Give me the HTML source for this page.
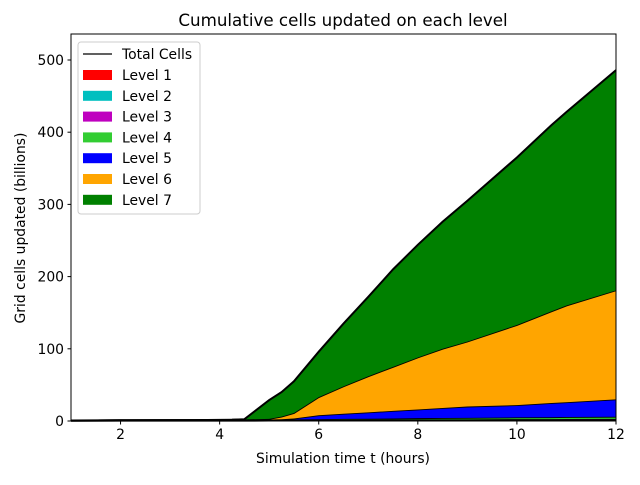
<!DOCTYPE html>
<html><head><meta charset="utf-8"><style>
body{margin:0;background:#fff;}
svg text{font-family:"DejaVu Sans","Liberation Sans",sans-serif;}
</style></head><body>
<svg id="chart" width="640" height="480" viewBox="0 0 640 480" xmlns="http://www.w3.org/2000/svg">
<rect width="640" height="480" fill="#fff"/>
<text x="343" y="26" font-size="16.7" text-anchor="middle">Cumulative cells updated on each level</text>
<g id="areas"></g>
<g id="axes"></g>
<g id="legend"></g>
</svg>
<script>
const xs = [1,2,3,3.5,4,4.25,4.5,5,5.25,5.5,6,6.5,7,7.5,8,8.5,9,10,10.7,11,12];
const level1 = [0.2,0.3,0.3,0.3,0.4,0.4,0.4,0.5,0.5,0.5,0.6,0.6,0.7,0.7,0.8,0.8,0.8,0.9,0.9,1,1];
const level2 = [0.2,0.3,0.3,0.3,0.4,0.4,0.4,0.4,0.5,0.5,0.5,0.6,0.6,0.6,0.7,0.7,0.7,0.8,0.8,0.8,0.9];
const level3 = [0.2,0.2,0.3,0.3,0.3,0.3,0.4,0.4,0.4,0.5,0.5,0.6,0.6,0.7,0.7,0.8,0.8,0.9,0.9,1,1];
const level4 = [0.1,0.2,0.2,0.3,0.3,0.3,0.4,0.5,0.6,0.7,0.9,1.1,1.3,1.5,1.7,1.9,2.1,2.4,2.6,2.7,3];
const level5 = [0,0,0,0,0.2,0.3,0.4,0.3,0.5,1.3,5.5,7.1,8.8,10.5,12.1,13.8,15.6,17,19.8,20.5,24.1];
const level6 = [0,0,0,0,0,0,0.2,0.9,3.5,7.5,25,38,50,61,72,82,90,111,127,134,151];
const level7 = [0,0,0,0,0,0,0.3,26,34,44,63,87,110,135,156,176,195,232,258,268,305];
const levels = [level1,level2,level3,level4,level5,level6,level7];
const colors = ["#ff0000","#00bfbf","#bf00bf","#32cd32","#0000ff","#ffa500","#008000"];
const names = ["Level 1","Level 2","Level 3","Level 4","Level 5","Level 6","Level 7"];
const xTicks = [2,4,6,8,10,12];
const yTicks = [0,100,200,300,400,500];
const L=71,R=616,T=34,B=421,XMIN=1,XMAX=12,YMIN=0,YMAX=536;
const FS=13.9;
const sx=v=>L+(v-XMIN)/(XMAX-XMIN)*(R-L);
const sy=v=>B-(v-YMIN)/(YMAX-YMIN)*(B-T);
const NS="http://www.w3.org/2000/svg";
function mk(t,a,p){const e=document.createElementNS(NS,t);for(const k in a)e.setAttribute(k,a[k]);p.appendChild(e);return e;}
const areas=document.getElementById('areas');
let base=xs.map(()=>0);
levels.forEach((lv,i)=>{
  const top=base.map((b,j)=>b+lv[j]);
  let d='M'+xs.map((x,j)=>sx(x)+','+sy(top[j])).join('L');
  for(let j=xs.length-1;j>=0;j--) d+='L'+sx(xs[j])+','+sy(base[j]);
  const p=mk('path',{d:d+'Z',fill:colors[i],stroke:'none'},areas);
  
  
  const ln=mk('polyline',{points:xs.map((x,j)=>sx(x)+','+sy(top[j])).join(' '),fill:'none',stroke:'#000','stroke-width':i==6?2:1.8},areas);
  
  
  base=top;
});
const ax=document.getElementById('axes');
const fr=mk('rect',{x:L,y:T,width:R-L,height:B-T,fill:'none',stroke:'#000','stroke-width':1},ax);


xTicks.forEach(v=>{
  mk('line',{x1:sx(v),x2:sx(v),y1:B,y2:B+3.5,stroke:'#000'},ax);
  const t=mk('text',{x:sx(v),y:B+18,'font-size':FS,'text-anchor':'middle'},ax);t.textContent=v;
  
  
});
yTicks.forEach(v=>{
  mk('line',{x1:L-3.5,x2:L,y1:sy(v),y2:sy(v),stroke:'#000'},ax);
  const t=mk('text',{x:L-7,y:sy(v)+5,'font-size':FS,'text-anchor':'end'},ax);t.textContent=v;
  
  
});
const xt=mk('text',{x:343,y:463,'font-size':FS,'text-anchor':'middle'},ax);xt.textContent='Simulation time t (hours)';


const yt=mk('text',{x:25,y:228,'font-size':FS,'text-anchor':'middle',transform:'rotate(-90 25 228)'},ax);yt.textContent='Grid cells updated (billions)';


const lg=document.getElementById('legend');
mk('rect',{x:78,y:42,width:122,height:172,rx:3,fill:'#fff','fill-opacity':0.8,stroke:'#ccc'},lg);
mk('line',{x1:83,x2:112,y1:54,y2:54,stroke:'#000','stroke-width':1.2},lg);
const t0=mk('text',{x:122,y:59,'font-size':FS},lg);t0.textContent='Total Cells';


names.forEach((n,i)=>{
  const y=75+i*20.8;
  mk('rect',{x:83,y:y-5,width:29,height:10,fill:colors[i]},lg);
  const t=mk('text',{x:122,y:y+5,'font-size':FS},lg);t.textContent=n;
  
  
});
</script>
</body></html>
